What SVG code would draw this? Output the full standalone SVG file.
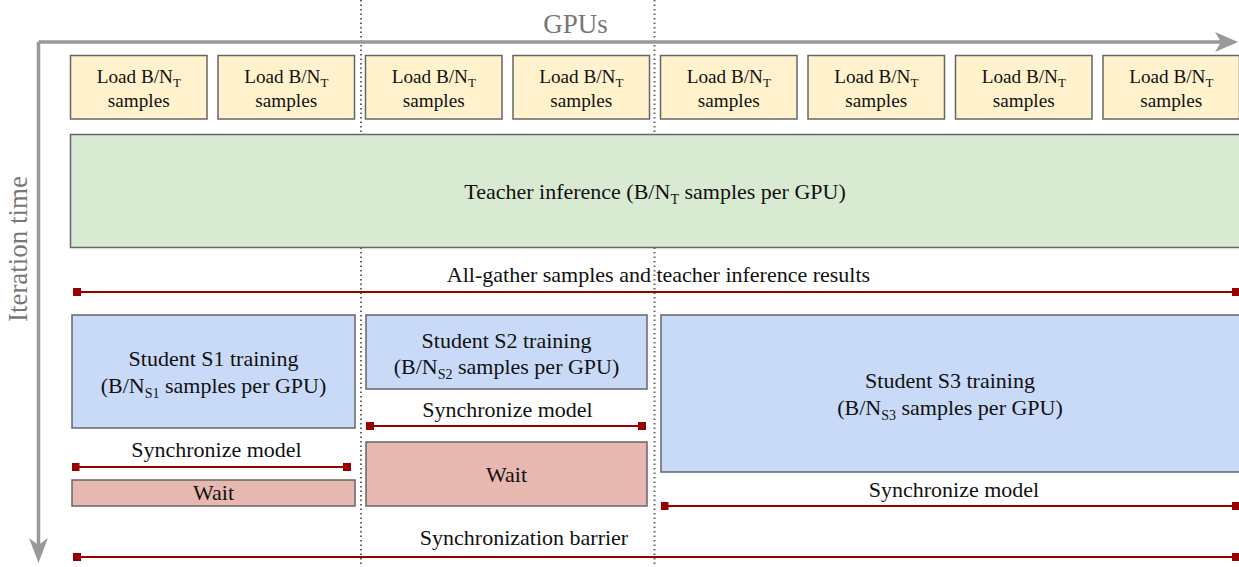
<svg xmlns="http://www.w3.org/2000/svg" width="1239" height="567" viewBox="0 0 1239 567">
<style>
text{font-family:"Liberation Serif","Times New Roman",serif;fill:#111;text-anchor:middle}
.load{fill:#fff2cc;stroke:#666;stroke-width:1.5}
.teacher{fill:#d9ead3;stroke:#666;stroke-width:1.5}
.student{fill:#c9daf8;stroke:#666;stroke-width:1.5}
.wait{fill:#e6b8af;stroke:#666;stroke-width:1.5}
.t19{font-size:19.2px}
.t21{font-size:22px}
.sub{font-size:14px}
.lsub{font-size:13px}
.sync{stroke:#990000;stroke-width:2;fill:none}
.sq{fill:#990000}
.dot{stroke:#666;stroke-width:2;stroke-dasharray:1.5 3;fill:none}
.axis{stroke:#999;stroke-width:3.5;fill:none}
.axlabel{font-size:27px;fill:#777}
</style>
<defs>
<marker id="sq" viewBox="0 0 8 8" refX="4" refY="4" markerWidth="8" markerHeight="8" markerUnits="userSpaceOnUse">
<rect width="8" height="8" class="sq"/>
</marker>
</defs>
<rect width="1239" height="567" fill="#fff"/>
<g id="gpu-separators">
<line class="dot" x1="361" y1="0" x2="361" y2="567"/>
<line class="dot" x1="654.5" y1="0" x2="654.5" y2="567"/>
</g>
<g id="axes">
<path class="axis" d="M38.5 42 H1222 M38.5 42 V546"/>
<path d="M1238 42 L1215 32 L1221 42 L1215 52 Z" fill="#999"/>
<path d="M38.5 563 L29 538 L38.5 545 L48 538 Z" fill="#999"/>
<text class="axlabel" x="575.5" y="33">GPUs</text>
<text class="axlabel" transform="translate(27 249) rotate(-90)">Iteration time</text>
</g>
<g id="load1"><rect class="load" x="70.5" y="55.5" width="136.5" height="63.5"/><text class="t19" x="138.75" y="83">Load B/N<tspan class="lsub" dy="4">T</tspan></text><text class="t19" x="138.75" y="106.5">samples</text></g>
<g id="load2"><rect class="load" x="218" y="55.5" width="136.5" height="63.5"/><text class="t19" x="286.25" y="83">Load B/N<tspan class="lsub" dy="4">T</tspan></text><text class="t19" x="286.25" y="106.5">samples</text></g>
<g id="load3"><rect class="load" x="365.5" y="55.5" width="136.5" height="63.5"/><text class="t19" x="433.75" y="83">Load B/N<tspan class="lsub" dy="4">T</tspan></text><text class="t19" x="433.75" y="106.5">samples</text></g>
<g id="load4"><rect class="load" x="513" y="55.5" width="136.5" height="63.5"/><text class="t19" x="581.25" y="83">Load B/N<tspan class="lsub" dy="4">T</tspan></text><text class="t19" x="581.25" y="106.5">samples</text></g>
<g id="load5"><rect class="load" x="660.5" y="55.5" width="136.5" height="63.5"/><text class="t19" x="728.75" y="83">Load B/N<tspan class="lsub" dy="4">T</tspan></text><text class="t19" x="728.75" y="106.5">samples</text></g>
<g id="load6"><rect class="load" x="808" y="55.5" width="136.5" height="63.5"/><text class="t19" x="876.25" y="83">Load B/N<tspan class="lsub" dy="4">T</tspan></text><text class="t19" x="876.25" y="106.5">samples</text></g>
<g id="load7"><rect class="load" x="955.5" y="55.5" width="136.5" height="63.5"/><text class="t19" x="1023.75" y="83">Load B/N<tspan class="lsub" dy="4">T</tspan></text><text class="t19" x="1023.75" y="106.5">samples</text></g>
<g id="load8"><rect class="load" x="1103" y="55.5" width="136.5" height="63.5"/><text class="t19" x="1171.25" y="83">Load B/N<tspan class="lsub" dy="4">T</tspan></text><text class="t19" x="1171.25" y="106.5">samples</text></g>
<g id="teacher"><rect class="teacher" x="70.5" y="134.5" width="1172" height="113"/><text class="t21" x="655" y="199">Teacher inference (B/N<tspan class="sub" dy="5">T</tspan><tspan dy="-5"> samples per GPU)</tspan></text></g>
<g id="student1"><rect class="student" x="72" y="315" width="283" height="113"/><text class="t21" x="213.5" y="366">Student S1 training</text><text class="t21" x="213.5" y="393">(B/N<tspan class="sub" dy="5">S1</tspan><tspan dy="-5"> samples per GPU)</tspan></text></g>
<g id="student2"><rect class="student" x="366" y="315" width="281" height="74"/><text class="t21" x="506.5" y="348">Student S2 training</text><text class="t21" x="506.5" y="374">(B/N<tspan class="sub" dy="5">S2</tspan><tspan dy="-5"> samples per GPU)</tspan></text></g>
<g id="student3"><rect class="student" x="661" y="315" width="582" height="157"/><text class="t21" x="950" y="388">Student S3 training</text><text class="t21" x="950" y="415">(B/N<tspan class="sub" dy="5">S3</tspan><tspan dy="-5"> samples per GPU)</tspan></text></g>
<g id="wait1"><rect class="wait" x="72" y="480" width="283" height="26"/><text class="t21" x="213.5" y="500">Wait</text></g>
<g id="wait2"><rect class="wait" x="366" y="442" width="281" height="64"/><text class="t21" x="506.5" y="481.5">Wait</text></g>
<g id="connectors">
<line class="sync" x1="77" y1="292" x2="1235.5" y2="292" marker-start="url(#sq)" marker-end="url(#sq)"/>
<line class="sync" x1="75.5" y1="467" x2="347" y2="467" marker-start="url(#sq)" marker-end="url(#sq)"/>
<line class="sync" x1="370" y1="426" x2="642" y2="426" marker-start="url(#sq)" marker-end="url(#sq)"/>
<line class="sync" x1="664.5" y1="506" x2="1235.5" y2="506" marker-start="url(#sq)" marker-end="url(#sq)"/>
<line class="sync" x1="77" y1="557" x2="1235.5" y2="557" marker-start="url(#sq)" marker-end="url(#sq)"/>
</g>
<g id="labels">
<text class="t21" x="658.5" y="282">All-gather samples and teacher inference results</text>
<text class="t21" x="216.5" y="457">Synchronize model</text>
<text class="t21" x="507.5" y="416.5">Synchronize model</text>
<text class="t21" x="954" y="497">Synchronize model</text>
<text class="t21" x="524" y="545">Synchronization barrier</text>
</g>
</svg>
